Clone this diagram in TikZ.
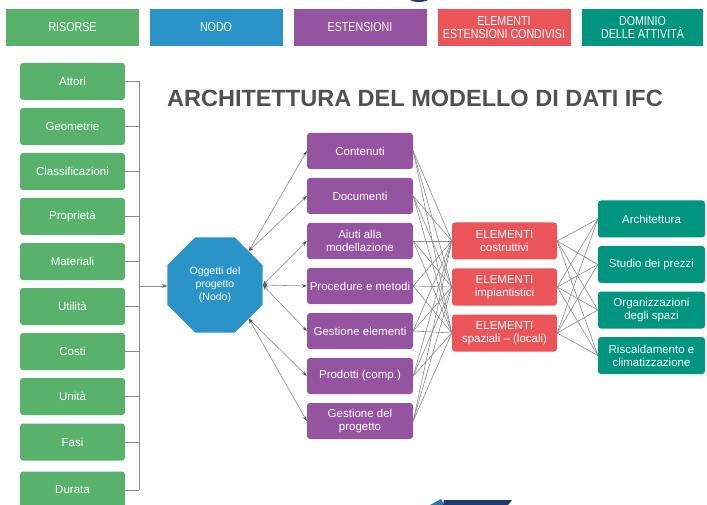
\documentclass[tikz,border=0pt]{standalone}
\usepackage{fontspec}
\setmainfont{Liberation Sans}
\newfontfamily\kopffont{Liberation Sans}[FakeStretch=0.82]
\usetikzlibrary{shapes.geometric,arrows.meta}

\definecolor{gruen}{HTML}{58B26C}
\definecolor{blau}{HTML}{2A93C8}
\definecolor{lila}{HTML}{9554A0}
\definecolor{rot}{HTML}{EB555A}
\definecolor{petrol}{HTML}{00957F}
\definecolor{linie}{HTML}{8A8A8A}
\definecolor{spitze}{HTML}{555555}
\definecolor{titel}{HTML}{505050}
\definecolor{logo}{HTML}{1D3B70}

\begin{document}
\begin{tikzpicture}[x=1pt,y=-1pt,
  kasten/.style={rectangle,rounded corners=3pt,minimum width=105pt,minimum height=37pt,
    inner sep=1pt,text=white,align=center,font=\fontsize{11.5}{13}\selectfont},
  kopf/.style={rectangle,minimum width=133pt,minimum height=37pt,inner sep=1pt,
    text=white,align=center,font=\kopffont\fontsize{13}{13.5}\selectfont},
  linie/.style={draw=linie,line width=0.6pt},
  pfeil/.style={linie,{Stealth[length=5pt,width=3.5pt,color=spitze]}-{Stealth[length=5pt,width=3.5pt,color=spitze]}}]
  \useasboundingbox (0,0) rectangle (707,505);
  \clip (0,0) rectangle (707,505);
  % Logoreste oben und unten
  \fill[logo] (419,-9) ellipse (16 and 11);
  \fill[blau!70!logo] (430,505) -- (441,499) -- (444,505) -- cycle;
  \fill[logo] (443,505) -- (444,500) -- (512,500) -- (508,505) -- cycle;
  % Kopfzeile
  \node[kopf,fill=gruen] (krisorse) at (72.5,27.5) {RISORSE};
  \node[kopf,fill=blau] (knodo) at (216,27.5) {NODO};
  \node[kopf,fill=lila] (kestensioni) at (360,27.5) {ESTENSIONI};
  \node[kopf,fill=rot] (kelementi) at (504,27.5) {ELEMENTI\\ESTENSIONI CONDIVISI};
  \node[kopf,fill=petrol,minimum width=121pt] (kdominio) at (642.5,27.5) {DOMINIO\\DELLE ATTIVITÀ};
  % Titel
  \node[font=\fontsize{23.5}{26}\selectfont\bfseries,text=titel] (titel) at (415,98)
    {ARCHITETTURA DEL MODELLO DI DATI IFC};
  % Risorse
  \foreach \t/\y [count=\i] in {Attori/81.5,Geometrie/126.5,Classificazioni/171.5,
      Proprietà/216.5,Materiali/261.5,Utilità/306.5,Costi/351.5,Unità/396.5,
      Fasi/442,Durata/490}
    \node[kasten,fill=gruen] (r\i) at (72.5,\y) {\t};
  % Nodo
  \node[regular polygon,regular polygon sides=8,minimum size=103pt,inner sep=0pt,
    fill=blau,text=white,align=center,font=\fontsize{10.5}{13}\selectfont]
    (oggetti) at (215,285) {Oggetti del\\progetto\\(Nodo)};
  % Klammer zum Nodo
  \coordinate (sammel) at (139,286);
  \foreach \i in {1,...,10}
    \draw[linie] (r\i.east) -- (r\i.east -| sammel);
  \draw[linie] (r1.east -| sammel) -- (r10.east -| sammel);
  \draw[linie,-{Stealth[length=5pt,width=3.5pt,color=spitze]}] (sammel) -- (oggetti.west |- sammel);
  % Estensioni
  \foreach \t/\y [count=\i] in {Contenuti/151,Documenti/196,Aiuti alla\\modellazione/241,
      Procedure e metodi/286,Gestione elementi/331,Prodotti (comp.)/376,
      Gestione del\\progetto/421}
    \node[kasten,fill=lila,minimum width=106pt,minimum height=36pt] (e\i) at (360,\y) {\t};
  % Elementi condivisi
  \foreach \t/\y [count=\i] in {costruttivi/241,impiantistici/287,spaziali – (locali)/333}
    \node[kasten,fill=rot] (m\i) at (504.5,\y) {ELEMENTI\\\t};
  % Dominio
  \foreach \t/\y [count=\i] in {Architettura/219,Studio dei prezzi/264.5,
      Organizzazioni\\degli spazi/310,Riscaldamento e\\climatizzazione/355.5}
    \node[kasten,fill=petrol,minimum width=107pt] (d\i) at (651.5,\y) {\t};
  % Pfeile Nodo - Estensioni
  \foreach \i in {1,2}
    \draw[pfeil] (oggetti.45) -- (e\i.west);
  \foreach \i in {3,4,5}
    \draw[pfeil] (oggetti.east) -- (e\i.west);
  \foreach \i in {6,7}
    \draw[pfeil] (oggetti.-45) -- (e\i.west);
  % Linien Estensioni - Elementi - Dominio
  \foreach \i in {1,...,7}
    \foreach \j in {1,2,3}
      \draw[linie] (e\i.east) -- (m\j.west);
  \foreach \i in {1,2,3}
    \foreach \j in {1,...,4}
      \draw[linie] (m\i.east) -- (d\j.west);
\end{tikzpicture}
\end{document}
